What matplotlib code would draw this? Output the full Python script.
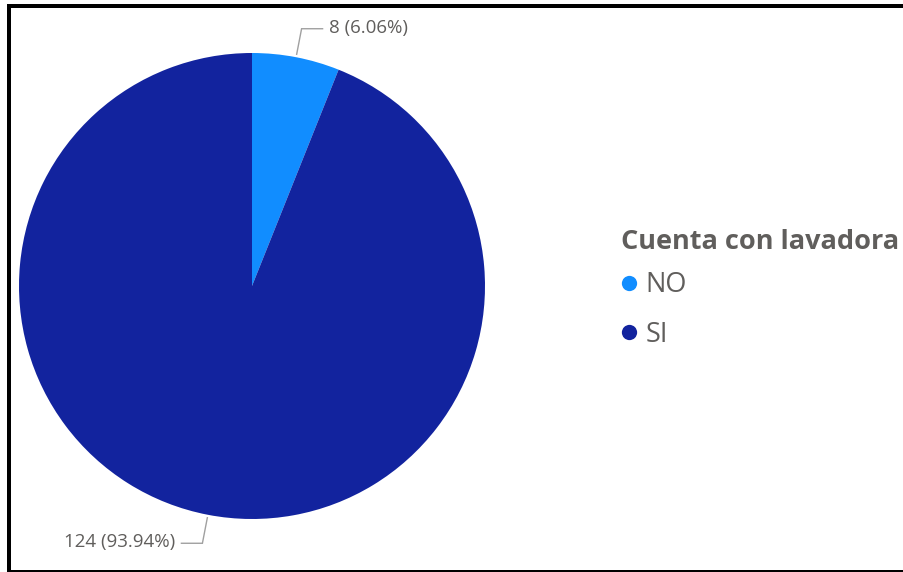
import numpy as np
import matplotlib
matplotlib.use("Agg")
import matplotlib.pyplot as plt
from matplotlib.lines import Line2D

categories = ["NO", "SI"]
values = [8, 124]
colors = ["#118DFF", "#12239E"]
legend_title = "Cuenta con lavadora"

W, H = 904, 572
fig = plt.figure(figsize=(W / 100, H / 100), dpi=100)
ax = fig.add_axes([0, 0, 1, 1])
ax.set_xlim(0, W)
ax.set_ylim(0, H)
ax.set_axis_off()

cx, cy, R = 252, H - 286, 233
wedges, _ = ax.pie(values, colors=colors, startangle=90, counterclock=False,
                   center=(cx, cy), radius=R, frame=True,
                   wedgeprops=dict(linewidth=0))
ax.set_xlim(0, W)
ax.set_ylim(0, H)
ax.set_aspect("equal")
ax.set_axis_off()

total = sum(values)
txtcol = "#605E5C"
linecol = "#A0A0A0"
cum = 0
for v in values:
    frac = v / total
    mid = np.deg2rad(90 - 360 * (cum + frac / 2))
    cum += frac
    x0, y0 = cx + 236 * np.cos(mid), cy + 236 * np.sin(mid)
    x1, y1 = cx + 262 * np.cos(mid), cy + 262 * np.sin(mid)
    side = 1 if np.cos(mid) >= 0 else -1
    x2 = x1 + side * 21
    ax.plot([x0, x1, x2], [y0, y1, y1], color=linecol, lw=1.0,
            solid_joinstyle="miter")
    label = f"{v} ({frac * 100:.2f}%)"
    ax.text(x2 + side * 6, y1 + 1, label, ha="left" if side > 0 else "right",
            va="center", fontsize=13.5, color=txtcol, family="Open Sans")

# legend title
ax.text(621, H - 242, legend_title, ha="left", va="center", fontsize=19.5,
        fontweight="bold", color=txtcol, family="Open Sans")

handles = [Line2D([], [], marker="o", linestyle="none", markersize=11,
                  markerfacecolor=c, markeredgewidth=0) for c in colors]
leg = ax.legend(handles, categories, loc="upper left",
                bbox_to_anchor=(621 / W, 1 - 271 / H), frameon=False,
                handlelength=0.6, handletextpad=0.3,
                labelspacing=0.8, borderpad=0, borderaxespad=0,
                prop=dict(family="Open Sans", size=19.5),
                labelcolor=txtcol)

# frame border
ax.plot([7, W], [H - 6, H - 6], color="black", lw=4 * 0.72, solid_capstyle="butt")
ax.plot([9, 9], [H - 4, 0], color="black", lw=4 * 0.72, solid_capstyle="butt")
ax.plot([7, W], [1, 1], color="black", lw=2 * 0.72, solid_capstyle="butt")

fig.savefig("out.png", dpi=100)
